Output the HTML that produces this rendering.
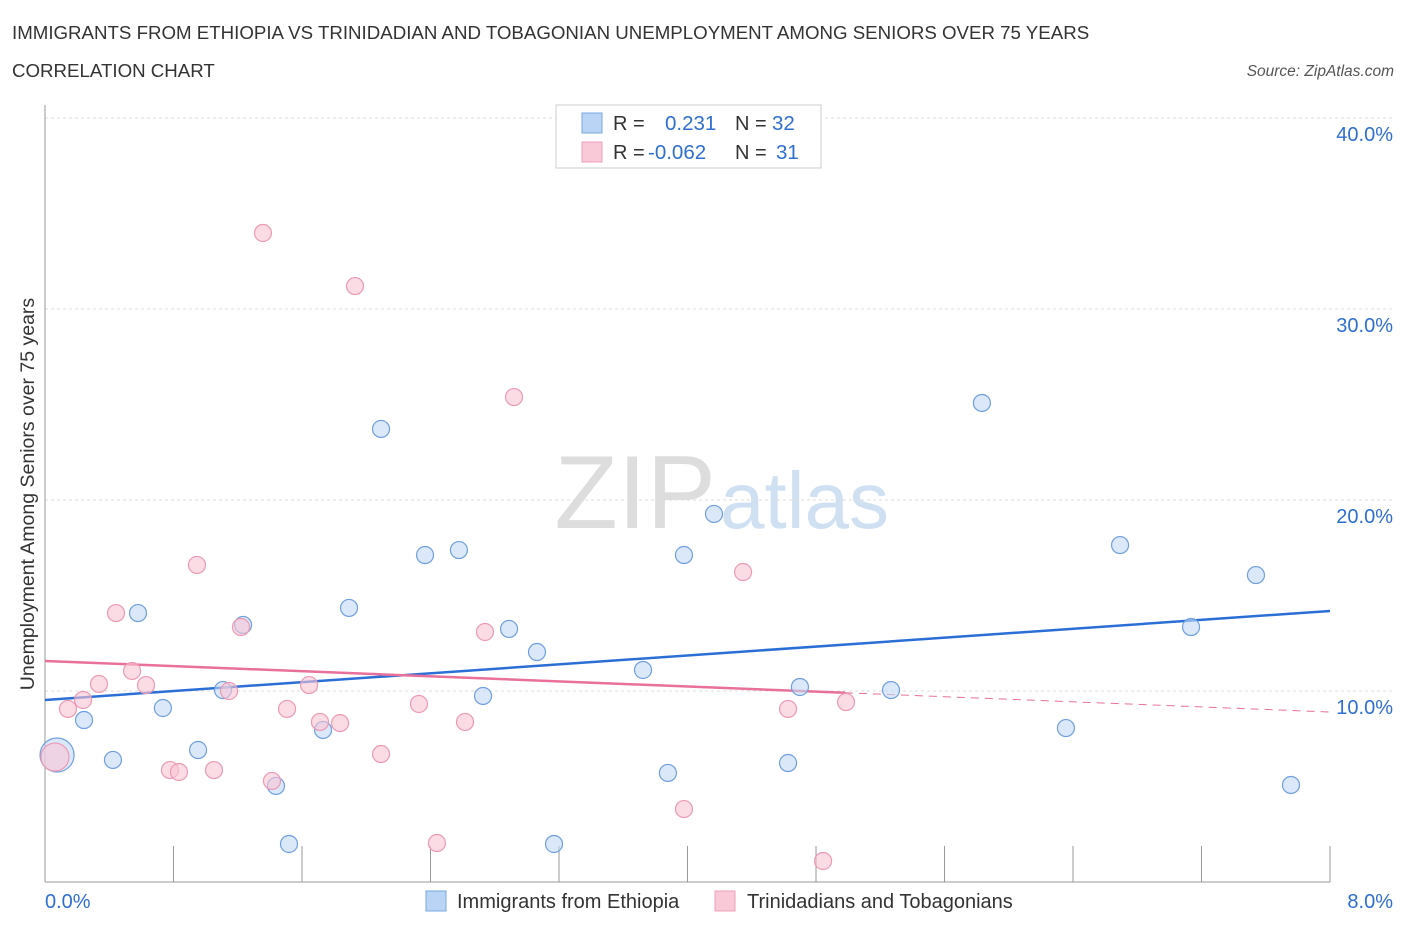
<!DOCTYPE html>
<html><head><meta charset="utf-8"><style>
body{margin:0;background:#fff;font-family:"Liberation Sans",sans-serif}
svg text{font-family:"Liberation Sans",sans-serif}
</style></head><body>
<svg id="chart" width="1406" height="930">
<text x="12" y="39" font-size="18.7" fill="#333">IMMIGRANTS FROM ETHIOPIA VS TRINIDADIAN AND TOBAGONIAN UNEMPLOYMENT AMONG SENIORS OVER 75 YEARS</text>
<text x="12" y="77" font-size="18.7" fill="#333">CORRELATION CHART</text>
<text x="1394" y="76" font-size="15.5" fill="#555" font-style="italic" text-anchor="end">Source: ZipAtlas.com</text>
<text x="716" y="528" font-size="104" fill="#ddd" text-anchor="end" font-family="Liberation Serif">ZIP</text>
<text x="720" y="528" font-size="80" fill="#cfe0f3">atlas</text>
<g id="grid"></g><g id="axes"></g><g id="trend"></g><g id="pts"></g>
<text x="34" y="494" font-size="19.5" fill="#333" text-anchor="middle" transform="rotate(-90 34 494)">Unemployment Among Seniors over 75 years</text>
<g>
<rect x="556" y="105" width="265" height="63" fill="#fff" stroke="#ccc"/>
<rect x="582" y="113" width="20" height="20" fill="#b9d4f5" stroke="#7aa7e0"/>
<rect x="582" y="142" width="20" height="20" fill="#f9c9d7" stroke="#eea0b8"/>
<text x="613" y="130" font-size="20" fill="#333">R =</text><text x="665" y="130" font-size="20.5" fill="#2f6fd0">0.231</text>
<text x="735" y="130" font-size="20" fill="#333">N =</text><text x="772" y="130" font-size="20.5" fill="#2f6fd0">32</text>
<text x="613" y="159" font-size="20" fill="#333">R =</text><text x="648" y="159" font-size="20.5" fill="#2f6fd0">-0.062</text>
<text x="735" y="159" font-size="20" fill="#333">N =</text><text x="776" y="159" font-size="20.5" fill="#2f6fd0">31</text>
</g>
<g>
<rect x="426" y="891" width="20" height="20" fill="#b9d4f5" stroke="#7aa7e0"/>
<text x="457" y="908" font-size="20" fill="#333">Immigrants from Ethiopia</text>
<rect x="715" y="891" width="20" height="20" fill="#f9c9d7" stroke="#eea0b8"/>
<text x="747" y="908" font-size="20" fill="#333">Trinidadians and Tobagonians</text>
</g>
</svg>
<script>
const yTicks=[10,20,30,40];
const yTickLabels=["10.0%","20.0%","30.0%","40.0%"];
const xTickLabels=["0.0%","8.0%"];
const blueX=[0.075,0.243,0.423,0.579,0.734,0.953,1.108,1.233,1.438,1.519,1.731,1.893,2.092,2.366,2.577,2.727,2.889,3.063,3.723,3.878,3.978,4.165,4.626,4.700,5.267,5.833,6.356,6.693,7.135,7.539,7.757,3.169];
const blueY=[6.65,8.48,6.39,14.08,9.11,6.91,10.05,13.46,5.03,1.99,7.96,14.35,23.72,17.12,17.38,9.74,13.25,12.04,11.10,5.71,17.12,19.27,6.23,10.21,10.05,25.08,8.06,17.64,13.35,16.07,5.08,1.99];
const pinkX=[0.062,0.143,0.237,0.336,0.442,0.542,0.629,0.778,0.834,0.946,1.052,1.146,1.220,1.357,1.413,1.507,1.644,1.712,1.837,1.930,2.092,2.328,2.440,2.615,2.739,2.920,3.978,4.346,4.626,4.844,4.987];
const pinkY=[6.54,9.06,9.53,10.37,14.08,11.05,10.31,5.86,5.76,16.6,5.86,10.0,13.35,33.98,5.29,9.06,10.31,8.38,8.32,31.2,6.7,9.32,2.04,8.38,13.09,25.39,3.82,16.23,9.06,1.10,9.42];
const blueTrend=[9.53,14.19];
const pinkTrend=[11.57,8.9];
const pinkSolidEnd=4.98;
const NS="http://www.w3.org/2000/svg";
const sx=v=>45+v*160.625, sy=v=>882-v*19.1;
function mk(t,a,p){const e=document.createElementNS(NS,t);for(const k in a)e.setAttribute(k,a[k]);document.getElementById(p).appendChild(e);return e;}
yTicks.forEach((t,i)=>{
 const l=mk('line',{x1:45,x2:1394,y1:sy(t),y2:sy(t),stroke:'#ddd','stroke-dasharray':'3,3'},'grid');
 
 
 const tx=mk('text',{x:1393,y:sy(t)+23,'font-size':20,fill:'#2f6fd0','text-anchor':'end'},'grid');
 tx.textContent=yTickLabels[i];
 
 
});
const ya=mk('line',{x1:45,x2:45,y1:105,y2:882,stroke:'#999'},'axes');


const xa=mk('line',{x1:45,x2:1330,y1:882,y2:882,stroke:'#999'},'axes');


for(let i=0;i<=10;i++){const tk=mk('line',{x1:sx(i*0.8),x2:sx(i*0.8),y1:846,y2:882,stroke:'#999'},'axes');
 
 }
const xl0=mk('text',{x:45,y:908,'font-size':20,fill:'#2f6fd0'},'axes');xl0.textContent=xTickLabels[0];


const xl1=mk('text',{x:1393,y:908,'font-size':20,fill:'#2f6fd0','text-anchor':'end'},'axes');xl1.textContent=xTickLabels[1];


function pts(X,Y,fill,stroke,name,big){X.forEach((x,i)=>{const c=mk('circle',{cx:sx(x),cy:sy(Y[i]),r:i===0?big:8.5,fill:fill,'fill-opacity':0.6,stroke:stroke,'stroke-width':1.2},'pts');
 
 });}
pts(blueX,blueY,'#c3d9f5','#6f9fde','ethiopia-point',17);
pts(pinkX,pinkY,'#f9c4d4','#ec9ab4','trinidad-point',14);
const bt=mk('line',{x1:sx(0),y1:sy(blueTrend[0]),x2:sx(8),y2:sy(blueTrend[1]),stroke:'#2b6fd6','stroke-width':2.5},'trend');


const pm=pinkTrend[0]+(pinkTrend[1]-pinkTrend[0])*pinkSolidEnd/8;
const pt=mk('line',{x1:sx(0),y1:sy(pinkTrend[0]),x2:sx(pinkSolidEnd),y2:sy(pm),stroke:'#e8709a','stroke-width':2.5},'trend');


const pd=mk('line',{x1:sx(pinkSolidEnd),y1:sy(pm),x2:sx(8),y2:sy(pinkTrend[1]),stroke:'#e8709a','stroke-width':1,'stroke-dasharray':'8,6'},'trend');


</script>
</body></html>
